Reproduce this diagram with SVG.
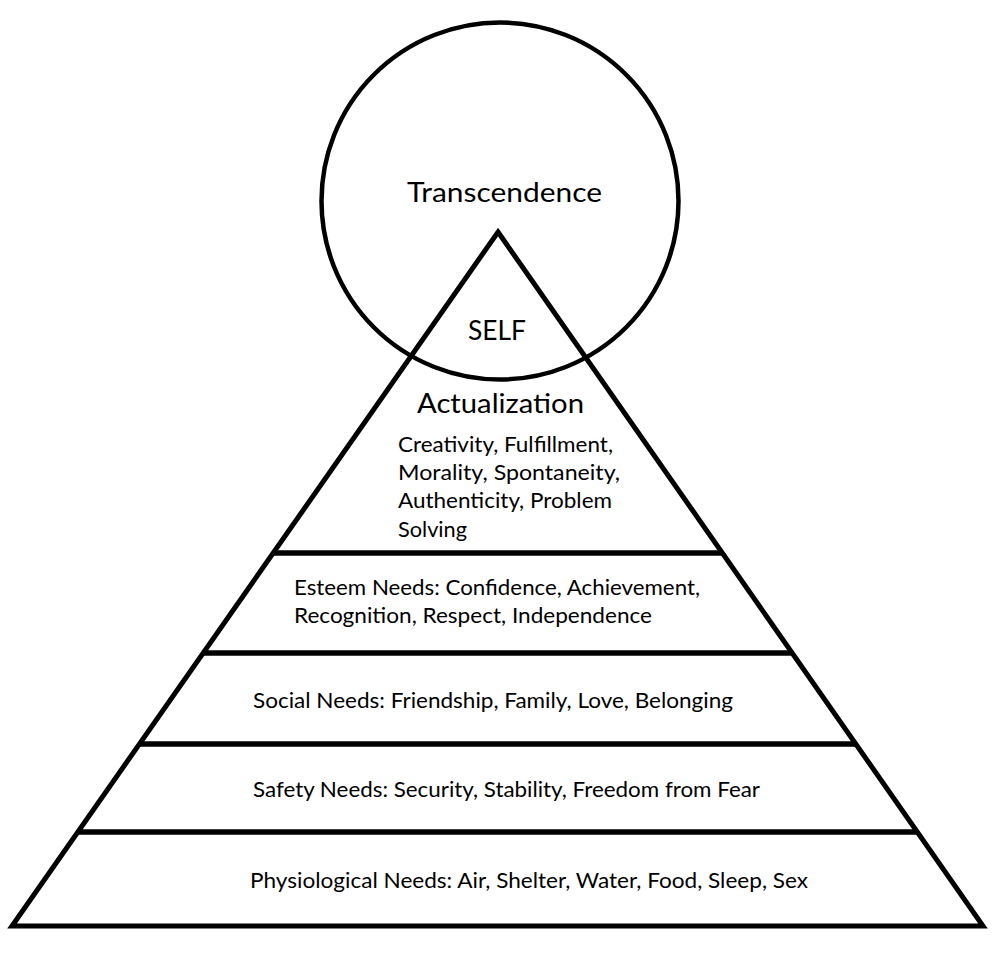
<svg xmlns="http://www.w3.org/2000/svg" width="1000" height="954" viewBox="0 0 1000 954">
<style>
.shape{fill:none;stroke:#000;stroke-width:5;stroke-linejoin:miter;stroke-miterlimit:20}
.div{stroke:#000;stroke-width:5.5;fill:none}
.big{font-family:Lato,"Open Sans","Liberation Sans",sans-serif;font-size:27px;fill:#000}
.small{font-family:Lato,"Open Sans","Liberation Sans",sans-serif;font-size:21px;fill:#000}
</style>
<rect x="0" y="0" width="1000" height="954" fill="#fff"/>
<g id="transcendence">
<circle cx="500" cy="201" r="178.5" fill="none" stroke="#000" stroke-width="4.5"/>
<text class="big" x="407" y="202" textLength="195" lengthAdjust="spacingAndGlyphs">Transcendence</text>
</g>
<g id="pyramid">
<polygon class="shape" points="498,232 983,926 12,926"/>
</g>
<g id="dividers">
<line class="div" x1="273.2" y1="553" x2="722.3" y2="553"/>
<line class="div" x1="203.2" y1="653" x2="792.2" y2="653"/>
<line class="div" x1="139.5" y1="744" x2="855.8" y2="744"/>
<line class="div" x1="77.8" y1="832" x2="917.3" y2="832"/>
</g>
<g id="self-actualization">
<text class="big" x="468" y="340" textLength="58" lengthAdjust="spacingAndGlyphs">SELF</text>
<text class="big" x="417" y="413" textLength="167" lengthAdjust="spacingAndGlyphs">Actualization</text>
<text class="small" x="398" y="452" textLength="215" lengthAdjust="spacingAndGlyphs">Creativity, Fulfillment,</text>
<text class="small" x="398" y="480" textLength="222" lengthAdjust="spacingAndGlyphs">Morality, Spontaneity,</text>
<text class="small" x="398" y="508" textLength="214" lengthAdjust="spacingAndGlyphs">Authenticity, Problem</text>
<text class="small" x="398" y="537" textLength="69" lengthAdjust="spacingAndGlyphs">Solving</text>
</g>
<g id="esteem">
<text class="small" x="294" y="595" textLength="406" lengthAdjust="spacingAndGlyphs">Esteem Needs: Confidence, Achievement,</text>
<text class="small" x="294" y="623" textLength="358" lengthAdjust="spacingAndGlyphs">Recognition, Respect, Independence</text>
</g>
<g id="social">
<text class="small" x="253" y="708" textLength="480" lengthAdjust="spacingAndGlyphs">Social Needs: Friendship, Family, Love, Belonging</text>
</g>
<g id="safety">
<text class="small" x="253" y="797" textLength="507" lengthAdjust="spacingAndGlyphs">Safety Needs: Security, Stability, Freedom from Fear</text>
</g>
<g id="physiological">
<text class="small" x="250" y="888" textLength="558" lengthAdjust="spacingAndGlyphs">Physiological Needs: Air, Shelter, Water, Food, Sleep, Sex</text>
</g>
</svg>
